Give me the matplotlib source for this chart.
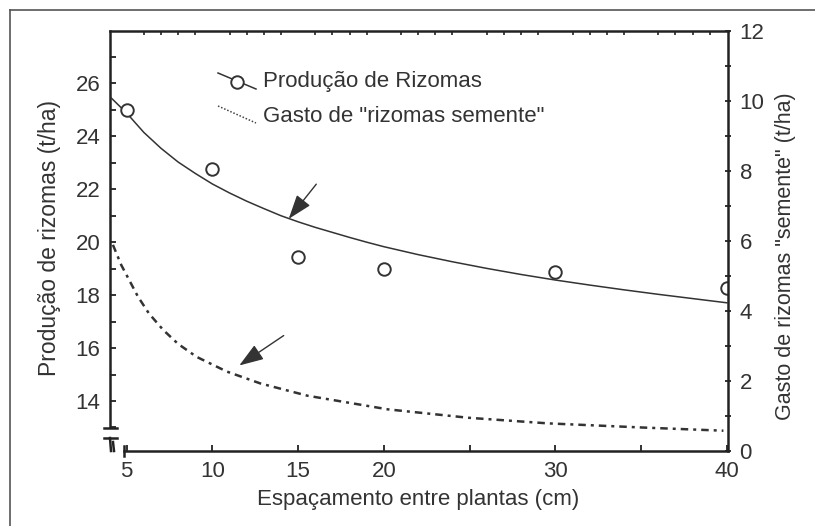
import matplotlib
matplotlib.use('Agg')
import matplotlib.pyplot as plt
from matplotlib.lines import Line2D
from matplotlib.patches import FancyArrowPatch

plt.rcParams['font.family'] = ['Liberation Sans', 'DejaVu Sans']

# ---- data ----
obs_x = [5, 10, 15, 20, 30, 40]
obs_prod = [25.0, 22.75, 19.45, 18.97, 18.86, 18.26]

fit_x = [4.1, 5, 6, 7, 8, 9, 10, 11, 12, 13, 14, 15, 16, 17, 18, 19, 20,
         22, 24, 26, 28, 30, 32, 34, 36, 38, 40]
fit_prod = [25.45, 24.88, 24.15, 23.55, 23.03, 22.6, 22.2, 21.86, 21.55,
            21.27, 21.0, 20.77, 20.56, 20.37, 20.18, 20.0, 19.83, 19.53,
            19.26, 19.01, 18.78, 18.57, 18.38, 18.2, 18.03, 17.87, 17.71]

seed_x = [4.2, 4.69, 5.66, 6.3, 7.13, 8.0, 9.08, 10.84, 12.8, 15.54, 20.23,
          24.92, 29.55, 35.12, 39.8]
seed_cost = [5.89, 5.31, 4.41, 3.93, 3.46, 3.06, 2.69, 2.27, 1.93, 1.58,
             1.19, 0.95, 0.79, 0.67, 0.58]

x_ticks = [5, 10, 15, 20, 25, 30, 35, 40]
x_ticklabels = ['5', '10', '15', '20', '', '30', '', '40']
top_minor = list(range(5, 41))
left_ticks = [14, 16, 18, 20, 22, 24, 26]
left_minor = [13, 15, 17, 19, 21, 23, 25, 27]
right_ticks = [0, 2, 4, 6, 8, 10, 12]
right_minor = [1, 3, 5, 7, 9, 11]

legend_labels = ['Produção de Rizomas', 'Gasto de "rizomas semente"']
xlabel = 'Espaçamento entre plantas (cm)'
ylabel_left = 'Produção de rizomas (t/ha)'
ylabel_right = 'Gasto de rizomas "semente" (t/ha)'

W, H = 815, 526
TXT = '#333333'
LINE = '#222222'


def P(x, y):
    """pixel -> figure fraction"""
    return (x / W, 1 - y / H)


fig = plt.figure(figsize=(W / 100, H / 100), dpi=100)
ax = fig.add_axes([110 / W, 1 - 451 / H, (727.7 - 110) / W, (451 - 31) / H])
ax2 = ax.twinx()

ax.set_xlim(4.03, 40.05)
ax.set_ylim(12.11, 27.98)
ax2.set_ylim(0, 12)

# curves
ax.plot(fit_x, fit_prod, color='#333333', lw=1.1, zorder=3)
ax.plot(obs_x, obs_prod, linestyle='none', marker='o', ms=9, mfc='white',
        mec='#333333', mew=1.4, zorder=4)
ax2.plot(seed_x, seed_cost, color='#333333', lw=1.8,
         linestyle=(0, (3, 2, 1.2, 2)), zorder=3)

# spines
for s in ['left', 'bottom', 'top', 'right']:
    ax.spines[s].set_linewidth(1.8)
    ax.spines[s].set_color(LINE)
    ax2.spines[s].set_linewidth(1.8)
    ax2.spines[s].set_color(LINE)
for s in ['left', 'top', 'bottom']:
    ax2.spines[s].set_visible(False)
ax.spines['right'].set_visible(False)
ax.spines['left'].set_bounds(13.0, 27.98)
ax.spines['bottom'].set_bounds(4.85, 40.05)

# ticks
ax.set_xticks(x_ticks)
ax.set_xticklabels(x_ticklabels)
ax.set_xticks(top_minor, minor=True)
ax.set_yticks(left_ticks)
ax.set_yticks(left_minor, minor=True)
ax2.set_yticks(right_ticks)
ax2.set_yticks(right_minor, minor=True)

ax.tick_params(axis='x', which='major', direction='in', length=4, width=1.3,
               color=LINE, labelsize=16, labelcolor=TXT, pad=7, top=False)
ax.tick_params(axis='x', which='minor', direction='in', length=3, width=1.2,
               color=LINE, bottom=False, top=True)
ax.tick_params(axis='y', which='both', direction='in', length=4, width=1.3,
               color=LINE, labelsize=16, labelcolor=TXT, pad=7, right=False)
ax2.tick_params(axis='y', which='both', direction='inout', length=5, width=1.3,
                color=LINE, labelsize=16, labelcolor=TXT, pad=6)

# axis break marks
brk = [
    ((104, 428), (117, 428)),
    ((104, 438), (117, 438)),
    ((110, 438), (111, 451)),
    ((113, 442), (114, 451)),
    ((124, 446), (124, 456)),
]
for (a, b) in brk:
    p1, p2 = P(*a), P(*b)
    fig.add_artist(Line2D([p1[0], p2[0]], [p1[1], p2[1]],
                          transform=fig.transFigure, color=LINE, lw=1.8))

# outer frame (top and left edges)
for (a, b) in [((10, 10), (815, 10)), ((10, 10), (10, 526))]:
    p1, p2 = P(*a), P(*b)
    fig.add_artist(Line2D([p1[0], p2[0]], [p1[1], p2[1]],
                          transform=fig.transFigure, color='#555555', lw=1.2))

# legend (hand-drawn like the original)
l1a, l1b = P(218, 73), P(256, 89)
fig.add_artist(Line2D([l1a[0], l1b[0]], [l1a[1], l1b[1]],
                      transform=fig.transFigure, color='#333333', lw=1.1))
mk = P(236.7, 81.7)
fig.add_artist(Line2D([mk[0]], [mk[1]], transform=fig.transFigure,
                      marker='o', ms=9, mfc='white', mec='#333333', mew=1.4,
                      linestyle='none'))
l2a, l2b = P(218, 106), P(256, 123)
fig.add_artist(Line2D([l2a[0], l2b[0]], [l2a[1], l2b[1]],
                      transform=fig.transFigure, color='#444444', lw=1.1,
                      linestyle=(0, (1, 1.2))))
t1 = P(263, 82)
fig.text(t1[0], t1[1], legend_labels[0], fontsize=16, color=TXT,
         ha='left', va='center')
t2 = P(263, 117)
fig.text(t2[0], t2[1], legend_labels[1], fontsize=16, color=TXT,
         ha='left', va='center')

# arrows
for (start, tip) in [((318, 182), (287, 221)), ((286, 334), (237, 367))]:
    fig.add_artist(FancyArrowPatch(
        P(*start), P(*tip), transform=fig.transFigure,
        arrowstyle='-|>,head_length=1.0,head_width=0.35', mutation_scale=15,
        color='#333333', lw=1.0))

# axis labels
xl = P(418, 500)
fig.text(xl[0], xl[1], xlabel, fontsize=16, color=TXT, ha='center', va='center')
yl = P(50, 238)
fig.text(yl[0], yl[1], ylabel_left, fontsize=16.5, color=TXT, ha='center',
         va='center', rotation=90)
yr = P(785, 256)
fig.text(yr[0], yr[1], ylabel_right, fontsize=15.5, color=TXT, ha='center',
         va='center', rotation=90)

fig.savefig('out.png', dpi=100)
